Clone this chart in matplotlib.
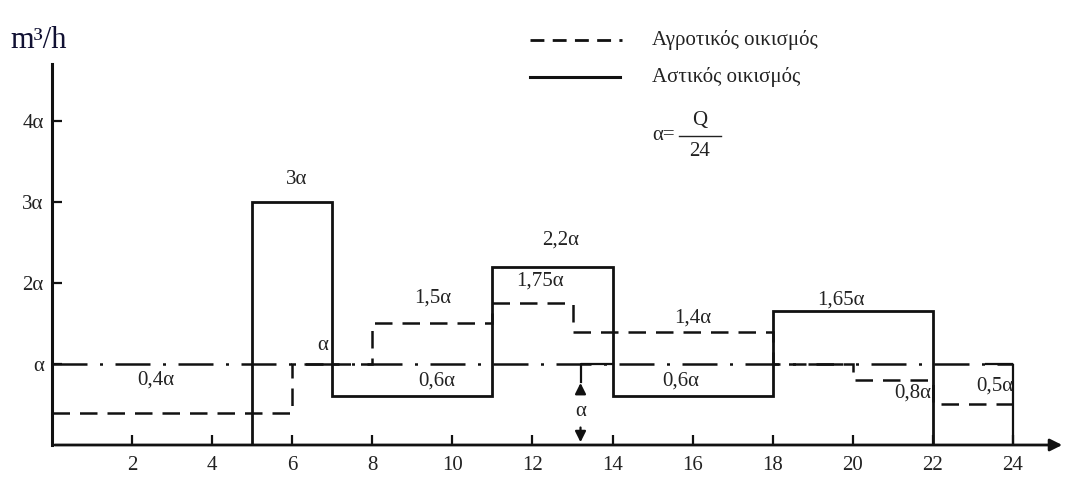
import matplotlib
matplotlib.use("Agg")
import matplotlib.pyplot as plt

plt.rcParams["font.family"] = ["Liberation Serif", "DejaVu Serif"]

# hourly consumption profiles, in units of alpha = Q/24
urban_edges = [0, 5, 7, 11, 14, 18, 22, 24]
urban_values = [0, 3, 0.6, 2.2, 0.6, 1.65, 0]
rural_edges = [0, 6, 8, 11, 13, 18, 20, 22, 24]
rural_values = [0.4, 1, 1.5, 1.75, 1.4, 1, 0.8, 0.5]
mean_value = 1
x_ticks = [2, 4, 6, 8, 10, 12, 14, 16, 18, 20, 22, 24]
y_ticks = [1, 2, 3, 4]
y_tick_labels = ["α", "2α", "3α", "4α"]

# value labels: (x, y, text)
value_labels = [
    (6.1, 3.27, "3α"),
    (12.7, 2.53, "2,2α"),
    (12.2, 2.02, "1,75α"),
    (9.5, 1.81, "1,5α"),
    (16.0, 1.57, "1,4α"),
    (19.7, 1.79, "1,65α"),
    (2.6, 0.80, "0,4α"),
    (9.6, 0.79, "0,6α"),
    (15.7, 0.79, "0,6α"),
    (21.5, 0.64, "0,8α"),
    (23.55, 0.73, "0,5α"),
    (6.75, 1.23, "α"),
]

fig = plt.figure(figsize=(10.77, 4.82), dpi=100)
ax = fig.add_axes([52 / 1077, 37 / 482, 1021 / 1077, 389 / 482])
ax.set_xlim(0, 25.5)
ax.set_ylim(0, 4.8)
for s in ax.spines.values():
    s.set_visible(False)

ink = "#111111"
txt = "#222222"
dash = (0, (7, 4))
dashdot = (0, (14, 5, 1.2, 5))

ax.stairs(urban_values, urban_edges, baseline=None, color=ink, lw=2.0)
ax.stairs(rural_values, rural_edges, baseline=None, color=ink, lw=1.8, linestyle=dash)
ax.hlines(mean_value, 0, 24, color=ink, lw=1.8, linestyles=[dashdot])
ax.vlines(24, 0, mean_value, color=ink, lw=1.6)
ax.hlines(mean_value, 23.3, 24, color=ink, lw=1.6)

# axes with arrow
ax.plot([0, 0], [0, 4.7], color=ink, lw=2.2, clip_on=False)
ax.annotate("", xy=(25.3, 0), xytext=(0, 0),
            arrowprops=dict(arrowstyle="-|>", color=ink, lw=2.0, mutation_scale=18),
            annotation_clip=False)

ax.set_xticks(x_ticks)
ax.set_xticklabels([str(t) for t in x_ticks])
ax.set_yticks(y_ticks)
ax.set_yticklabels(y_tick_labels)
ax.tick_params(axis="both", direction="in", length=7, width=1.6, color=ink,
               labelsize=15, labelcolor=txt)
ax.tick_params(axis="x", pad=8)
ax.tick_params(axis="y", pad=6)

# dimension marker for alpha
xd = 13.2
ax.plot([xd, xd, 14], [0.78, mean_value, mean_value], color=ink, lw=1.6)
ax.annotate("", xy=(xd, 0.8), xytext=(xd, 0.6),
            arrowprops=dict(arrowstyle="-|>", color=ink, lw=1.6, mutation_scale=16))
ax.annotate("", xy=(xd, 0.0), xytext=(xd, 0.25),
            arrowprops=dict(arrowstyle="-|>", color=ink, lw=1.6, mutation_scale=16))
ax.text(xd, 0.41, "α", ha="center", va="center", fontsize=15, color=txt)

for x, y, t in value_labels:
    ax.text(x, y, t, ha="center", va="center", fontsize=15, color=txt)

# unit label
fig.text(10 / 1077, 1 - 40 / 482, "m³/h", fontsize=22, ha="left", va="center",
         color="#111133")

# legend drawn by hand
fig.add_artist(plt.Line2D([530 / 1077, 622 / 1077], [1 - 40 / 482] * 2, color=ink,
                          lw=2.0, linestyle=(0, (5, 3))))
fig.add_artist(plt.Line2D([530 / 1077, 620 / 1077], [1 - 77 / 482] * 2, color=ink, lw=2.2))
fig.text(652 / 1077, 1 - 40 / 482, "Αγροτικός οικισμός", fontsize=15, va="center",
         color=txt)
fig.text(652 / 1077, 1 - 77 / 482, "Αστικός οικισμός", fontsize=15, va="center",
         color=txt)

# alpha = Q / 24 as a stacked fraction
fig.text(652 / 1077, 1 - 136 / 482, "α=", fontsize=15, va="center", color=txt)
fig.text(700 / 1077, 1 - 121 / 482, "Q", fontsize=15, ha="center", va="center", color=txt)
fig.text(700 / 1077, 1 - 152 / 482, "24", fontsize=15, ha="center", va="center", color=txt)
fig.add_artist(plt.Line2D([679 / 1077, 721 / 1077], [1 - 136 / 482] * 2, color=txt, lw=1.0))

fig.savefig("out.png", dpi=100, facecolor="white")
